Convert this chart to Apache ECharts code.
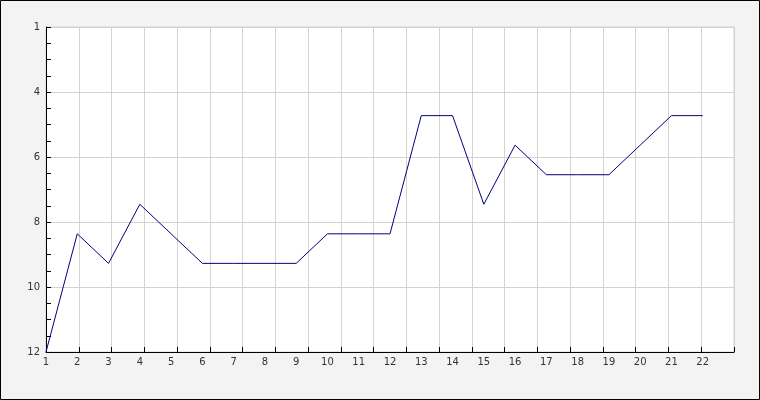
<!DOCTYPE html>
<html>
<head>
<meta charset="utf-8">
<script src="https://cdn.jsdelivr.net/npm/echarts@6/dist/echarts.min.js"></script>
<style>
html,body{margin:0;padding:0;background:#f3f3f3;}
#chart{width:760px;height:400px;}
</style>
</head>
<body>
<div id="chart"></div>
<script>
// Data
const xValues = [1,2,3,4,5,6,7,8,9,10,11,12,13,14,15,16,17,18,19,20,21,22];
const yValues = [12,8,9,7,8,9,9,9,9,8,8,8,4,4,7,5,6,6,6,5,4,4];
const xTickLabels = ['1','2','3','4','5','6','7','8','9','10','11','12','13','14','15','16','17','18','19','20','21','22'];
const yTickLabels = ['1','4','6','8','10','12'];

const chart = echarts.init(document.getElementById('chart'), null, {renderer:'canvas'});
const labelFont = {fontFamily:'DejaVu Sans', fontSize:10, color:'#333'};
const option = {
  animation:false,
  backgroundColor:'#f3f3f3',
  graphic:[{type:'rect', shape:{x:0.5,y:0.5,width:759,height:399}, style:{fill:null, stroke:'#000', lineWidth:1}, z:100}],
  grid:{left:46, top:27, right:26, bottom:48, show:true, backgroundColor:'#fff', borderColor:'#d3d3d3', borderWidth:1},
  xAxis:[
    {type:'value', min:0, max:21, interval:1, position:'bottom',
     axisLine:{show:true, onZero:false, lineStyle:{color:'#000', width:1}},
     axisTick:{show:true, inside:true, length:5, lineStyle:{color:'#000'}},
     axisLabel:{show:false},
     splitLine:{show:true, lineStyle:{color:'#d3d3d3', width:1}}},
    {type:'value', min:1, max:23, interval:1, position:'bottom',
     axisLine:{show:false, onZero:false}, axisTick:{show:false}, splitLine:{show:false},
     axisLabel:Object.assign({margin:5, showMaxLabel:false,
       formatter:function(v){ const i = Math.round(v)-1; return xTickLabels[i] !== undefined ? xTickLabels[i] : ''; }}, labelFont)}
  ],
  yAxis:[
    {type:'value', inverse:true, min:0, max:10, interval:2,
     axisLine:{show:true, onZero:false, lineStyle:{color:'#000', width:1}},
     axisTick:{show:true, inside:true, length:5, lineStyle:{color:'#000'}},
     minorTick:{show:true, splitNumber:4, length:5, lineStyle:{color:'#000'}},
     splitLine:{show:true, lineStyle:{color:'#d3d3d3', width:1}},
     axisLabel:Object.assign({margin:6, formatter:function(v){ return yTickLabels[Math.round(v/2)]; }}, labelFont)},
    {type:'value', inverse:true, min:1, max:12, show:false, axisLine:{onZero:false}, splitLine:{show:false}}
  ],
  series:[{
    type:'line', xAxisIndex:1, yAxisIndex:1, symbol:'none',
    lineStyle:{color:'#000080', width:1},
    data:xValues.map((x,i)=>[x, yValues[i]])
  }]
};
chart.setOption(option);
</script>
</body>
</html>
